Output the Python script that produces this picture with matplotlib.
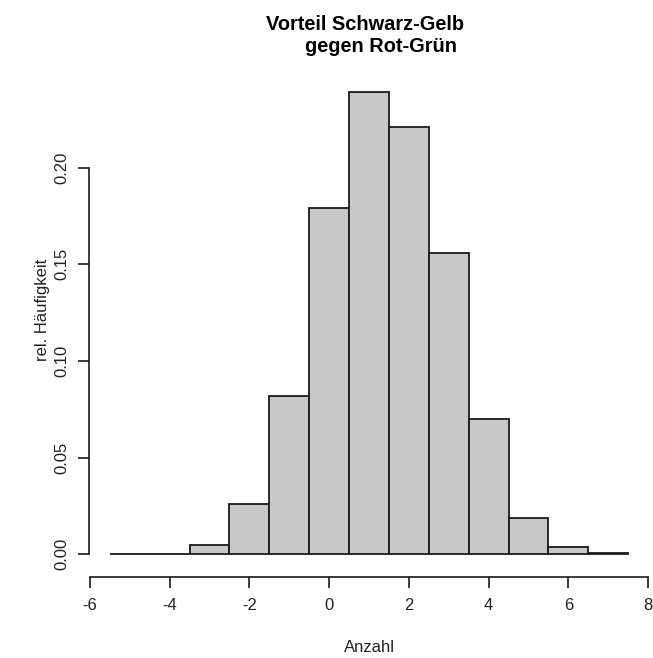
import matplotlib
matplotlib.use("Agg")
from matplotlib import pyplot as plt

# histogram data (relative frequencies per bin)
bin_edges = [-5.5, -4.5, -3.5, -2.5, -1.5, -0.5, 0.5, 1.5, 2.5, 3.5, 4.5, 5.5, 6.5, 7.5]
rel_freq = [0.0, 0.0, 0.005, 0.026, 0.082, 0.179, 0.239, 0.221, 0.156, 0.070, 0.0185, 0.0036, 0.0008]
x_ticks = [-6, -4, -2, 0, 2, 4, 6, 8]
y_ticks = [0.00, 0.05, 0.10, 0.15, 0.20]

plt.rcParams['font.family'] = ['Liberation Sans', 'DejaVu Sans']

W, H = 653, 658
fig = plt.figure(figsize=(W / 100, H / 100), dpi=100)
ax = fig.add_axes([89 / W, 1 - 577 / H, (649 - 89) / W, (577 - 74) / H])

lefts = bin_edges[:-1]
widths = [b - a for a, b in zip(bin_edges[:-1], bin_edges[1:])]
ax.bar(lefts, rel_freq, width=widths, align='edge', color='#c8c8c8',
       edgecolor='#1a1a1a', linewidth=1.3)

ax.set_xlim(-6.02, 8.02)
ax.set_ylim(-0.0118, 0.2485)

for s in ['top', 'right']:
    ax.spines[s].set_visible(False)
ax.spines['left'].set_bounds(0, 0.20)
ax.spines['bottom'].set_bounds(-6, 8)
for s in ['left', 'bottom']:
    ax.spines[s].set_linewidth(1.2)
    ax.spines[s].set_color('#1a1a1a')

ax.set_xticks(x_ticks)
ax.set_xticklabels([str(t) for t in x_ticks])
ax.set_yticks(y_ticks)
ax.set_yticklabels(['%.2f' % t for t in y_ticks], rotation=90, va='center')
ax.tick_params(axis='both', length=8, width=1.2, color='#1a1a1a',
               labelsize=12, labelcolor='#222222')
ax.tick_params(axis='x', pad=7)
ax.tick_params(axis='y', pad=6)

fig.text(42 / W, 1 - 310 / H, 'rel. Häufigkeit', rotation=90, ha='center',
         va='center', fontsize=12, color='#222222')
fig.text(369 / W, 1 - 648 / H, 'Anzahl', ha='center', va='center',
         fontsize=12, color='#222222')

fig.text(365 / W, 1 - 30 / H, 'Vorteil Schwarz-Gelb', ha='center',
         va='baseline', fontsize=14.4, fontweight='bold')
fig.text(381 / W, 1 - 52 / H, 'gegen Rot-Grün', ha='center',
         va='baseline', fontsize=14.4, fontweight='bold')

fig.savefig('out.png', dpi=100)
